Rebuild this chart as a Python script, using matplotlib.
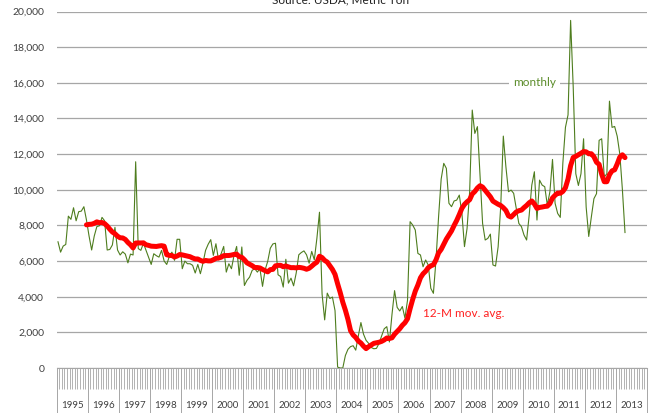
import numpy as np
import pandas as pd
import matplotlib
matplotlib.use('Agg')
import matplotlib.pyplot as plt

plt.rcParams['font.family'] = ['Lato', 'DejaVu Sans']

# monthly values, metric ton, Jan 1995 .. Apr 2013
monthly = [
    7080, 6500, 6840, 6930, 8520, 8340, 8990, 8260, 8770, 8800, 9050, 8300,     # 1995
    7400, 6620, 7400, 7930, 7980, 8450, 8260, 6620, 6650, 6900, 7890, 6620,     # 1996
    6340, 6520, 6390, 5900, 6390, 6340, 11570, 6700, 6600, 7000, 6600, 6200,    # 1997
    5810, 6410, 6300, 6220, 6600, 6000, 5810, 6260, 6500, 6040, 7220, 7220,     # 1998
    5570, 6000, 5850, 5850, 5760, 5330, 5810, 5290, 5890, 6600, 6940, 7200,     # 1999
    6320, 6970, 6070, 6410, 6820, 5380, 5850, 5570, 6320, 6820, 5200, 6790,     # 2000
    4630, 4920, 5100, 5480, 5570, 5380, 5570, 4580, 5510, 5980, 6720, 6960,     # 2001
    7000, 5230, 5130, 4540, 6100, 4760, 5040, 4610, 5320, 6350, 6480, 6570,     # 2002
    6350, 5880, 6540, 6070, 7280, 8740, 4150, 2700, 4200, 3900, 3980, 3220,     # 2003
    50, 0, 0, 700, 1050, 1200, 1250, 1000, 1800, 2550, 1900, 1550,              # 2004
    1380, 1150, 1080, 1100, 1380, 1800, 2200, 2320, 1460, 3000, 4340, 3400,     # 2005
    3200, 3450, 2800, 3800, 8210, 8020, 7740, 6430, 6340, 5680, 6060, 5780,     # 2006
    4470, 4190, 6060, 8490, 10600, 11480, 11200, 9240, 9050, 9370, 9420, 9700,  # 2007
    8700, 6810, 7830, 9890, 14470, 13160, 13540, 10800, 8110, 7180, 7270, 7510, # 2008
    5780, 5720, 6800, 9050, 13010, 11290, 9890, 9980, 9800, 8950, 8110, 7930,   # 2009
    7460, 7180, 8580, 10260, 11010, 8300, 10540, 10260, 10170, 9140, 9890, 11700,  # 2010
    9240, 8670, 8450, 11500, 13500, 14200, 19500, 15760, 10900, 10240, 10900, 12860,  # 2011
    9030, 7380, 8470, 9500, 9780, 12770, 12860, 10710, 10900, 14970, 13500, 13550,   # 2012
    13000, 12000, 10000, 7600,                                                  # 2013
]
years = list(range(1995, 2014))
y_ticks = np.arange(0, 20001, 2000)
title = 'Source: USDA, Metric Ton'
label_monthly = 'monthly'
label_avg = '12-M mov. avg.'

W, H = 656, 413
fig = plt.figure(figsize=(W / 100, H / 100), dpi=100)
ax = fig.add_axes([56.7 / W, (H - 368) / H, (647 - 56.7) / W, (368 - 11.5) / H])

n_months = 12 * len(years)
x = np.arange(len(monthly)) + 0.5
ma = pd.Series(monthly).rolling(12).mean()

ax.plot(x, monthly, color='#4e7d1e', lw=0.8)
ax.plot(x, ma, color='#ff0000', lw=3.6, solid_capstyle='round', solid_joinstyle='round')

ax.set_xlim(0, n_months)
ax.set_ylim(0, 20000)
ax.set_yticks(y_ticks)
ax.set_yticklabels([f'{v:,}' for v in y_ticks])
ax.grid(axis='y', color='#a6a6a6', lw=0.9)
ax.set_axisbelow(True)
for s in ['top', 'right', 'left']:
    ax.spines[s].set_visible(False)
ax.spines['bottom'].set_color('#a6a6a6')
ax.tick_params(axis='y', length=0, pad=9, labelsize=7.5, labelcolor='#404040')

# year dividers (major) and month ticks (minor)
ax.set_xticks(np.arange(0, n_months + 1, 12))
ax.set_xticks(np.arange(0, n_months + 1), minor=True)
ax.tick_params(axis='x', which='major', length=33, width=0.7, color='#a6a6a6', labelbottom=False)
ax.tick_params(axis='x', which='minor', length=15, width=0.6, color='#a6a6a6')
for k, yr in enumerate(years):
    ax.text(12 * k + 6, -0.105, str(yr), transform=ax.get_xaxis_transform(),
            ha='center', va='center', fontsize=7, color='#404040')

ax.text(184.4, 16000, label_monthly, ha='center', va='center', fontsize=8.5, color='#5b8c2a',
        bbox=dict(facecolor='white', edgecolor='none', pad=3))
ax.text(141.5, 3050, label_avg, ha='left', va='center', fontsize=8.5, color='#ff2020')

fig.text(341 / W, 1 - 3.5 / H, title, ha='center', va='baseline', fontsize=8.5, color='#202020')

fig.savefig('out.png', dpi=100)
